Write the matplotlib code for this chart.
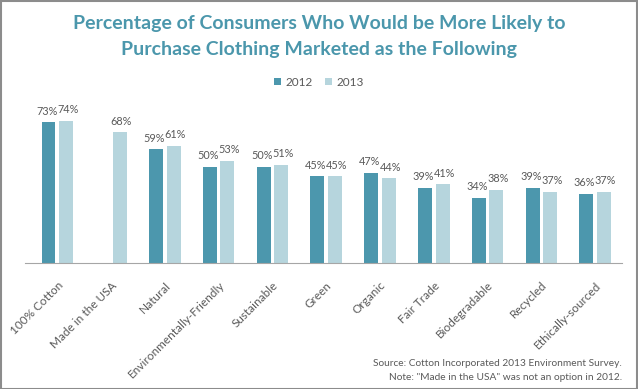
import matplotlib.pyplot as plt
import numpy as np
from matplotlib.patches import Rectangle

plt.rcParams['font.family'] = ['Lato', 'DejaVu Sans']

categories = ['100% Cotton', 'Made in the USA', 'Natural', 'Environmentally-Friendly',
              'Sustainable', 'Green', 'Organic', 'Fair Trade', 'Biodegradable',
              'Recycled', 'Ethically-sourced']
vals_2012 = [73, np.nan, 59, 50, 50, 45, 47, 39, 34, 39, 36]
vals_2013 = [74, 68, 61, 53, 51, 45, 44, 41, 38, 37, 37]

c2012 = '#4C97AD'
c2013 = '#B6D5DD'
teal = '#4B97AC'
grey_txt = '#595959'

fig = plt.figure(figsize=(6.38, 3.89), dpi=100)
ax = fig.add_axes([25 / 638, 1 - 263 / 389, 597 / 638, 154 / 389])

x = np.arange(len(categories))
off = 0.163
w = 0.26
b1 = ax.bar(x - off, vals_2012, w, color=c2012, label='2012')
b2 = ax.bar(x + off, vals_2013, w, color=c2013, label='2013')

# labels pushed slightly apart so neighbouring ones don't collide
for xs, vs, dx in ((x - off, vals_2012, -1.2), (x + off, vals_2013, 1.2)):
    for xi, v in zip(xs, vs):
        if np.isnan(v):
            continue
        ax.annotate('{0:.0f}%'.format(v), (xi, v), xytext=(dx, 4), textcoords='offset points',
                    ha='center', va='bottom', fontsize=7.8, color=grey_txt)

ax.set_xlim(-0.6, 10.5)
ax.set_ylim(0, 80)
ax.set_yticks([])
ax.set_xticks(x)
ax.set_xticklabels(categories, rotation=45, ha='right', rotation_mode='anchor',
                   fontsize=8.5, color=grey_txt)
ax.tick_params(axis='x', length=0, pad=12)
for s in ('top', 'right', 'left'):
    ax.spines[s].set_visible(False)
ax.spines['bottom'].set_color('#A6A6A6')

fig.text(0.5, 1 - 23 / 389, 'Percentage of Consumers Who Would be More Likely to',
         ha='center', va='center', fontsize=14, fontweight='bold', color=teal)
fig.text(0.5, 1 - 50 / 389, 'Purchase Clothing Marketed as the Following',
         ha='center', va='center', fontsize=14, fontweight='bold', color=teal)

fig.legend(handles=[b1, b2], loc='center', bbox_to_anchor=(0.5, 1 - 82 / 389),
           ncol=2, frameon=False, fontsize=8.5, handlelength=0.6, handleheight=0.6,
           handletextpad=0.4, columnspacing=1.0, labelcolor=grey_txt)

fig.text(622 / 638, 1 - 364 / 389, 'Source: Cotton Incorporated 2013 Environment Survey.',
         ha='right', va='center', fontsize=7.3, color=grey_txt)
fig.text(622 / 638, 1 - 378 / 389, 'Note: "Made in the USA" was not an option in 2012.',
         ha='right', va='center', fontsize=7.3, color=grey_txt)

fig.patches.append(Rectangle((0.001, 0.001), 0.997, 0.997, transform=fig.transFigure,
                             fill=False, edgecolor='#8C8C8C', linewidth=1.5))

plt.savefig('out.png', dpi=100)
